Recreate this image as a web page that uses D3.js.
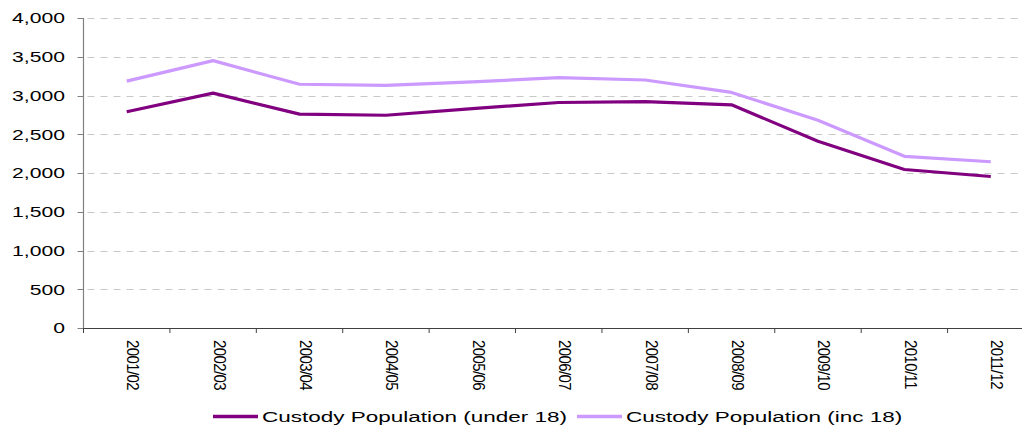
<!DOCTYPE html>
<html>
<head>
<meta charset="utf-8">
<script src="https://cdn.jsdelivr.net/npm/d3@7"></script>
<style>
html,body{margin:0;padding:0;background:#fff;overflow:hidden;}
text{font-family:"Liberation Sans",Arial,sans-serif;fill:#000;}
</style>
</head>
<body>
<svg id="chart" width="1022" height="427"></svg>
<script>
const categories = ["2001/02","2002/03","2003/04","2004/05","2005/06","2006/07","2007/08","2008/09","2009/10","2010/11","2011/12"];
const under18 = [2790, 3030, 2760, 2745, 2830, 2910, 2920, 2880, 2410, 2045, 1955];
const inc18 = [3185, 3450, 3145, 3130, 3175, 3230, 3200, 3040, 2680, 2215, 2145];
const yTicks = [0, 500, 1000, 1500, 2000, 2500, 3000, 3500, 4000];
const seriesNames = ["Custody Population (under 18)", "Custody Population (inc 18)"];
const seriesColors = ["#800080", "#CC99FF"];

(function(){
const SX = 1.41; // horizontal text stretch as in reference
const LSX = 1.5;
const svg = d3.select("#chart");
const pLeft = 83.5, pRight = 1034, pTop = 18, pBottom = 328;

const x = d3.scaleBand().domain(categories).range([pLeft, pRight]).padding(0);
const y = d3.scaleLinear().domain([0, 4000]).range([pBottom, pTop]);
const fmt = d3.format(",");

// gridlines
svg.append("g").selectAll("line").data(yTicks.filter(d => d > 0)).join("line")
  .attr("x1", pLeft + 4).attr("x2", 1022)
  .attr("y1", d => Math.round(y(d)) + 0.5).attr("y2", d => Math.round(y(d)) + 0.5)
  .attr("stroke", "#c8c8c8").attr("stroke-width", 1).attr("stroke-dasharray", "7,6");

// y axis
const yg = svg.append("g");
yg.append("line").attr("x1", pLeft).attr("x2", pLeft).attr("y1", pTop).attr("y2", pBottom)
  .attr("stroke", "#808080").attr("stroke-width", 1.2);
yg.selectAll("line.tk").data(yTicks).join("line").attr("class", "tk")
  .attr("x1", pLeft - 6).attr("x2", pLeft)
  .attr("y1", d => Math.round(y(d)) + 0.5).attr("y2", d => Math.round(y(d)) + 0.5)
  .attr("stroke", "#808080").attr("stroke-width", 1);
yg.selectAll("text").data(yTicks).join("text")
  .attr("transform", d => `translate(65,${y(d)}) scale(${SX},1)`)
  .attr("text-anchor", "end").attr("dy", "0.36em")
  .style("font-size", "15px")
  .text(d => fmt(d));

// x axis
const xg = svg.append("g");
xg.append("line").attr("x1", pLeft).attr("x2", 1022).attr("y1", pBottom + 0.5).attr("y2", pBottom + 0.5)
  .attr("stroke", "#404040").attr("stroke-width", 1.2);
const edges = categories.map(c => x(c)).concat([x(categories[categories.length - 1]) + x.bandwidth()]);
xg.selectAll("line.tk").data(edges).join("line").attr("class", "tk")
  .attr("x1", d => d).attr("x2", d => d).attr("y1", pBottom).attr("y2", pBottom + 5)
  .attr("stroke", "#404040").attr("stroke-width", 1);
xg.selectAll("text").data(categories).join("text")
  .attr("transform", d => `translate(${x(d) + x.bandwidth() / 2 + 0.5},340) scale(1.15,1) rotate(90)`)
  .attr("text-anchor", "start")
  .style("font-size", "15px").style("letter-spacing", "-0.6px")
  .text(d => d);

// lines
const line = d3.line().x((d, i) => x(categories[i]) + x.bandwidth() / 2).y(d => y(d));
[[inc18, 1], [under18, 0]].forEach(([vals, idx]) => {
  svg.append("path").datum(vals)
    .attr("fill", "none").attr("stroke", seriesColors[idx]).attr("stroke-width", 3.2)
    .attr("stroke-linejoin", "round").attr("d", line);
});

// legend
const lg = svg.append("g");
const ly = 416.5;
let lx = 213;
seriesNames.forEach((name, i) => {
  lg.append("line").attr("x1", lx).attr("x2", lx + 45).attr("y1", ly).attr("y2", ly)
    .attr("stroke", seriesColors[i]).attr("stroke-width", 3.5);
  const t = lg.append("text").attr("transform", `translate(${lx + 49},${ly}) scale(${LSX},1)`)
    .attr("dy", "0.36em").style("font-size", "15px").text(name);
  lx = lx + 49 + t.node().getComputedTextLength() * LSX + 10;
});
})();
</script>
</body>
</html>
